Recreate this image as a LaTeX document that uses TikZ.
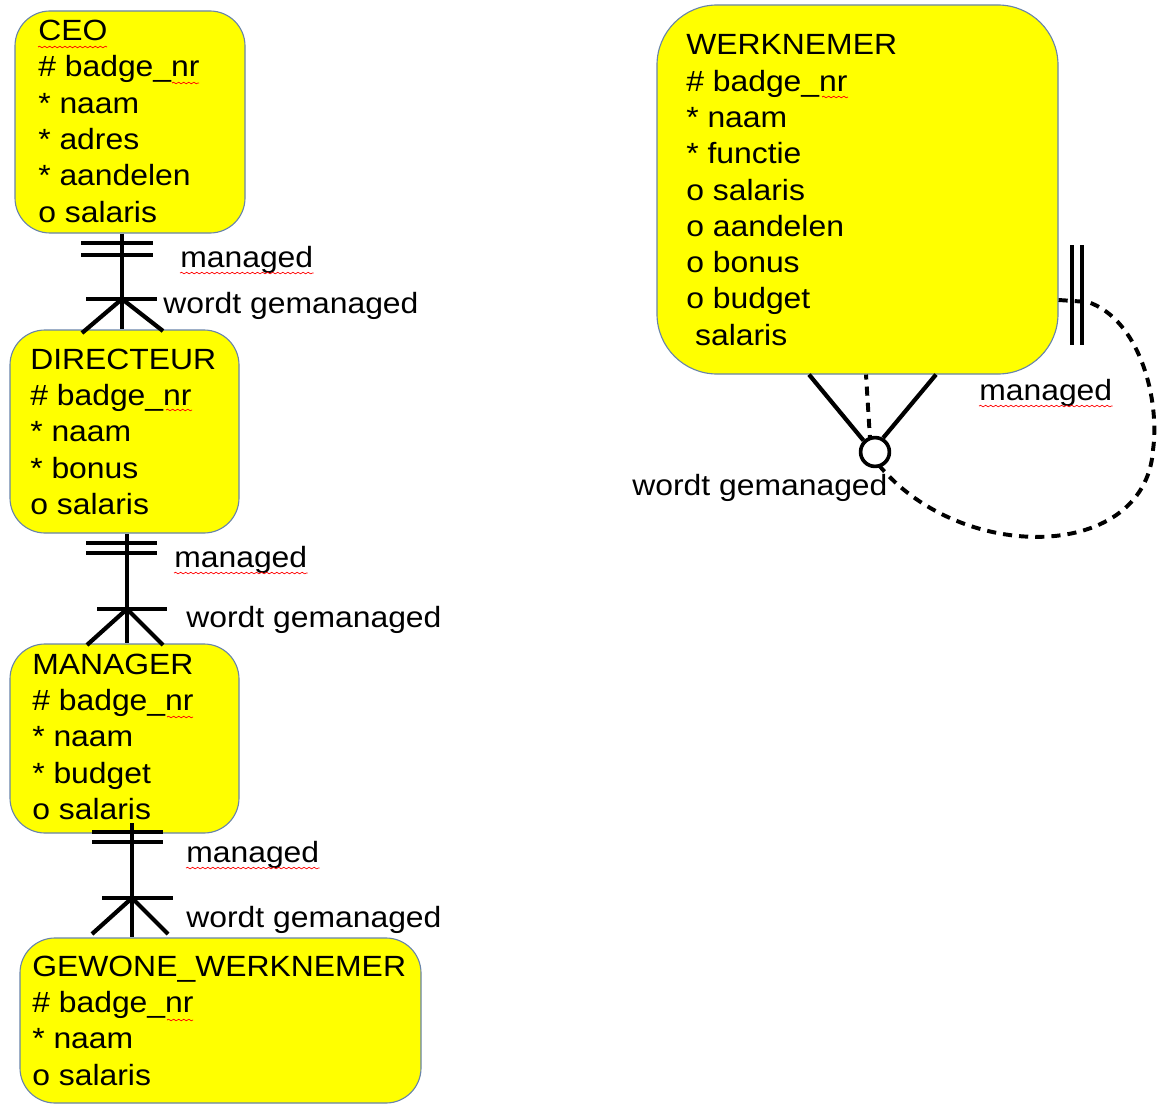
\documentclass[tikz,border=0pt]{standalone}
\usepackage{fontspec}
\setmainfont{Liberation Sans}[FakeStretch=1.09]
\usetikzlibrary{fit,decorations.pathmorphing}

\definecolor{boxline}{RGB}{104,132,170}
\definecolor{boxfill}{RGB}{255,255,0}

\tikzset{
  entity/.style={draw=boxline, fill=boxfill, line width=0.8pt,
    rounded corners=0.875cm, inner sep=0pt},
  attrs/.style={anchor=north west, align=left, inner sep=0pt,
    font=\fontsize{20.8}{25.8}\selectfont},
  lbl/.style={anchor=base west, inner sep=0pt,
    font=\fontsize{20.8}{25.8}\selectfont},
  rel/.style={line width=3pt},
  optrel/.style={line width=2.8pt, dash pattern=on 6.5pt off 5pt},
  spell/.style={red, line width=0.5pt, decorate,
    decoration={snake, amplitude=0.55pt, segment length=3.6pt}}
}

\begin{document}
\begin{tikzpicture}[x=0.025cm, y=-0.025cm]
  \useasboundingbox (0,0) rectangle (1160,1104);

  % entities, left column
  \node[entity, fit={(15,11) (245,233)}] (ceo) {};
  \node[entity, fit={(10,330) (239,533)}] (dir) {};
  \node[entity, fit={(10,644) (239,833)}] (man) {};
  \node[entity, fit={(20,938) (421,1103)}] (gew) {};

  % entity on the right
  \node[entity, rounded corners=1.5cm, fit={(657,5) (1058,374)}] (werk) {};

  % attributes
  \node[attrs] (ceo-txt) at (38,20)
    {CEO\\\# badge\_nr\\* naam\\* adres\\* aandelen\\o salaris};
  \node[attrs] (dir-txt) at (30,348.5)
    {DIRECTEUR\\\# badge\_nr\\* naam\\* bonus\\o salaris};
  \node[attrs] (man-txt) at (32,653.5)
    {MANAGER\\\# badge\_nr\\* naam\\* budget\\o salaris};
  \node[attrs] (gew-txt) at (32,955.5)
    {GEWONE\_WERKNEMER\\\# badge\_nr\\* naam\\o salaris};
  \node[attrs] (werk-txt) at (686,34.5)
    {WERKNEMER\\\# badge\_nr\\* naam\\* functie\\o salaris\\o aandelen\\o bonus\\o budget\\\ salaris};

  % CEO - DIRECTEUR
  \draw[rel] (ceo.south -| 122,0) -- (dir.north -| 122,0);
  \draw[rel] (81,243) -- (153,243);
  \draw[rel] (81,255) -- (153,255);
  \draw[rel] (86,299) -- (157,299);
  \draw[rel] (82,333) -- (122,299) -- (163,331);
  \node[lbl] (m1) at (180,267) {managed};
  \node[lbl] (w1) at (163,313) {wordt gemanaged};

  % DIRECTEUR - MANAGER
  \draw[rel] (dir.south -| 127,0) -- (man.north -| 127,0);
  \draw[rel] (86,543) -- (157,543);
  \draw[rel] (86,553) -- (157,553);
  \draw[rel] (97,609) -- (167,609);
  \draw[rel] (87,645) -- (127,609) -- (163,645);
  \node[lbl] (m2) at (174,567) {managed};
  \node[lbl] (w2) at (186,627) {wordt gemanaged};

  % MANAGER - GEWONE_WERKNEMER
  \draw[rel] (132,823) -- (gew.north -| 132,0);
  \draw[rel] (92,832) -- (163,832);
  \draw[rel] (92,842) -- (163,842);
  \draw[rel] (102,898) -- (173,898);
  \draw[rel] (92,934) -- (132,898) -- (168,934);
  \node[lbl] (m3) at (186,862) {managed};
  \node[lbl] (w3) at (186,927) {wordt gemanaged};

  % WERKNEMER manages WERKNEMER
  \draw[optrel] (werk.east |- 0,300) -- (1088,302)
    .. controls (1140,320) and (1160,400) .. (1153,450)
    .. controls (1145,565) and (950,565) .. (871,455)
    -- (werk.south -| 866,0);
  \draw[rel] (1072,245) -- (1072,345);
  \draw[rel] (1082,245) -- (1082,345);
  \node[circle, draw, fill=white, line width=2.6pt, minimum size=0.72cm,
    inner sep=0pt] (zero) at (875,452) {};
  \draw[rel] (werk.south -| 809,0) -- (zero.135);
  \draw[rel] (werk.south -| 936,0) -- (zero.60);
  \node[lbl] (m4) at (979,400) {managed};
  \node[lbl] (w4) at (632,495) {wordt gemanaged};

  % spell check marks
  \draw[spell] (38,47) -- (107,47);
  \draw[spell] (172,83) -- (199,83);
  \draw[spell] (166,410) -- (192,410);
  \draw[spell] (167,717) -- (193,717);
  \draw[spell] (167,1020) -- (193,1020);
  \draw[spell] (822,97) -- (848,97);
  \foreach \m in {m1,m2,m3,m4}
    \draw[spell] ([yshift=-4.3pt]\m.base west) -- ([yshift=-4.3pt]\m.base east);
\end{tikzpicture}
\end{document}
